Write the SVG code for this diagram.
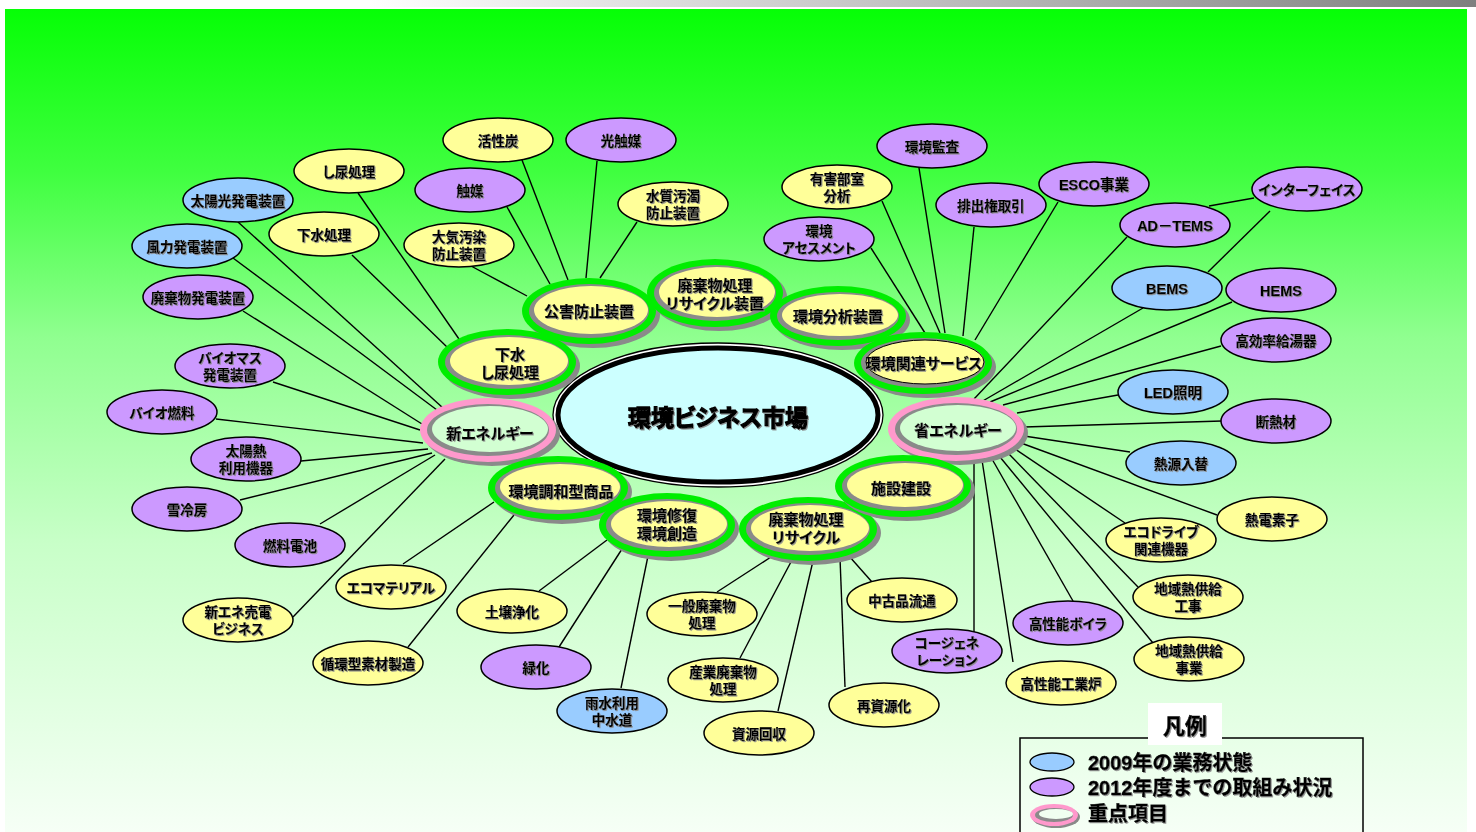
<svg xmlns="http://www.w3.org/2000/svg" width="1476" height="832" viewBox="0 0 1476 832">
<defs>
<linearGradient id="topbar" x1="0" y1="0" x2="1" y2="0">
<stop offset="0" stop-color="#ffffff"/><stop offset="0.25" stop-color="#ffffff"/><stop offset="1" stop-color="#7f7f7f"/>
</linearGradient>
<linearGradient id="bg" x1="0" y1="0" x2="0" y2="1">
<stop offset="0" stop-color="#06ff06"/><stop offset="0.2" stop-color="#40ff40"/><stop offset="0.4" stop-color="#90ff90"/><stop offset="0.65" stop-color="#c8ffc8"/><stop offset="1" stop-color="#f6fff6"/>
</linearGradient>
<filter id="tsh" x="-10%" y="-20%" width="120%" height="140%">
<feDropShadow dx="1" dy="1" stdDeviation="0.2" flood-color="#8a8a8a" flood-opacity="0.9"/>
</filter>
<style>
text{font-family:"Liberation Sans","Noto Sans CJK JP",sans-serif;font-weight:bold;text-anchor:middle;dominant-baseline:central;fill:#000;filter:url(#tsh);stroke:#000;stroke-width:0.25;font-feature-settings:"palt"}
.lt{font-size:13.5px}
.ln{font-size:14.5px}
.ct{font-size:15px}
.leaf{stroke:#000;stroke-width:1.5}
.y{fill:#ffff99}.p{fill:#cc99ff}.b{fill:#99ccff}
.sh{fill:#8a8a8a}
.gr{fill:#00ee00}
.pk{fill:#ff99cc}
.yi{fill:#ffff99}
.mi{fill:#d2ffd2}
#connectors line{stroke:#000;stroke-width:1.4}
.lg{text-anchor:start;font-size:20px;stroke-width:0.4;font-feature-settings:normal}
</style>
</defs>
<rect x="0" y="0" width="1476" height="832" fill="#ffffff"/>
<rect x="0" y="0" width="1476" height="7" fill="url(#topbar)"/>
<rect x="5" y="9" width="1462" height="823" fill="url(#bg)"/>
<rect x="1467" y="9" width="9" height="823" fill="#ffffff"/>

<g id="connectors">
<line x1="238" y1="222" x2="443" y2="408"/>
<line x1="233" y1="258" x2="437" y2="410"/>
<line x1="243" y1="311" x2="422" y2="424"/>
<line x1="273" y1="382" x2="420" y2="430"/>
<line x1="216" y1="419" x2="423" y2="443"/>
<line x1="301" y1="461" x2="428" y2="449"/>
<line x1="240" y1="500" x2="432" y2="453"/>
<line x1="320" y1="524" x2="435" y2="455"/>
<line x1="293" y1="617" x2="445" y2="459"/>
<line x1="352" y1="255" x2="447" y2="347"/>
<line x1="358" y1="193" x2="459" y2="339"/>
<line x1="522" y1="160" x2="568" y2="280"/>
<line x1="507" y1="207" x2="550" y2="284"/>
<line x1="597" y1="161" x2="586" y2="278"/>
<line x1="637" y1="222" x2="600" y2="278"/>
<line x1="471" y1="266" x2="527" y2="296"/>
<line x1="919" y1="168" x2="945" y2="333"/>
<line x1="882" y1="201" x2="940" y2="333"/>
<line x1="871" y1="248" x2="925" y2="333"/>
<line x1="974" y1="227" x2="963" y2="336"/>
<line x1="1058" y1="202" x2="975" y2="340"/>
<line x1="1127" y1="237" x2="974" y2="399"/>
<line x1="1143" y1="308" x2="981" y2="402"/>
<line x1="1232" y1="302" x2="990" y2="402"/>
<line x1="1221" y1="346" x2="1003" y2="405"/>
<line x1="1118" y1="395" x2="1017" y2="413"/>
<line x1="1222" y1="421" x2="1024" y2="427"/>
<line x1="1130" y1="452" x2="1024" y2="436"/>
<line x1="1217" y1="515" x2="1021" y2="443"/>
<line x1="1125" y1="523" x2="1015" y2="449"/>
<line x1="1138" y1="587" x2="1008" y2="453"/>
<line x1="1153" y1="643" x2="1000" y2="457"/>
<line x1="1073" y1="601" x2="992" y2="459"/>
<line x1="1013" y1="662" x2="982" y2="460"/>
<line x1="974" y1="632" x2="974" y2="460"/>
<line x1="1209" y1="206" x2="1254" y2="198"/>
<line x1="1270" y1="211" x2="1208" y2="272"/>
<line x1="403" y1="564" x2="494" y2="502"/>
<line x1="408" y1="647" x2="514" y2="515"/>
<line x1="539" y1="591" x2="607" y2="540"/>
<line x1="559" y1="647" x2="622" y2="549"/>
<line x1="621" y1="688" x2="648" y2="556"/>
<line x1="717" y1="592" x2="771" y2="557"/>
<line x1="740" y1="658" x2="792" y2="560"/>
<line x1="778" y1="711" x2="813" y2="561"/>
<line x1="845" y1="687" x2="840" y2="558"/>
<line x1="872" y1="582" x2="849" y2="556"/>
</g>

<g id="center">
<ellipse cx="718" cy="415" rx="165" ry="72" fill="#ffffff" stroke="#000" stroke-width="1.3"/>
<ellipse cx="718" cy="415" rx="160" ry="67" fill="#ccffff" stroke="#000" stroke-width="5"/>
<text x="718" y="418" style="font-size:23px;stroke-width:1.3">環境ビジネス市場</text>
</g>

<g id="cat-kogai">
<ellipse class="sh" cx="593" cy="315" rx="67" ry="33"/><ellipse class="gr" cx="589" cy="311" rx="67" ry="33"/><ellipse class="sh" cx="589" cy="311" rx="60" ry="27"/><ellipse class="yi" cx="591" cy="310" rx="57" ry="24"/>
<text class="ct" x="589" y="311">公害防止装置</text>
</g>
<g id="cat-haikibutsu-sochi">
<ellipse class="sh" cx="719" cy="297" rx="68" ry="34"/><ellipse class="gr" cx="715" cy="293" rx="68" ry="34"/><ellipse class="sh" cx="715" cy="293" rx="61" ry="28"/><ellipse class="yi" cx="717" cy="292" rx="58" ry="25"/>
<text class="ct" x="715" y="285">廃棄物処理</text><text class="ct" x="715" y="303">リサイクル装置</text>
</g>
<g id="cat-bunseki">
<ellipse class="sh" cx="842" cy="320" rx="68" ry="30"/><ellipse class="gr" cx="838" cy="316" rx="68" ry="30"/><ellipse class="sh" cx="838" cy="316" rx="61" ry="24"/><ellipse class="yi" cx="840" cy="315" rx="58" ry="21"/>
<text class="ct" x="838" y="316">環境分析装置</text>
</g>
<g id="cat-service">
<ellipse class="sh" cx="927" cy="367" rx="69" ry="31"/><ellipse class="gr" cx="923" cy="363" rx="69" ry="31"/><ellipse class="sh" cx="923" cy="363" rx="62" ry="25"/><ellipse class="yi" cx="925" cy="362" rx="59" ry="22" stroke="#000" stroke-width="1"/>
<text class="ct" x="924" y="363">環境関連サービス</text>
</g>
<g id="cat-gesui">
<ellipse class="sh" cx="511" cy="366" rx="69" ry="33"/><ellipse class="gr" cx="507" cy="362" rx="69" ry="33"/><ellipse class="sh" cx="507" cy="362" rx="62" ry="27"/><ellipse class="yi" cx="509" cy="361" rx="59" ry="24"/>
<text class="ct" x="510" y="354">下水</text><text class="ct" x="510" y="372">し尿処理</text>
</g>
<g id="cat-shin-energy">
<ellipse class="sh" cx="492" cy="434" rx="68" ry="32"/><ellipse class="pk" cx="488" cy="430" rx="68" ry="32"/><ellipse class="sh" cx="488" cy="430" rx="61" ry="26"/><ellipse class="mi" cx="490" cy="429" rx="58" ry="23"/>
<text class="ct" x="490" y="433">新エネルギー</text>
</g>
<g id="cat-sho-energy">
<ellipse class="sh" cx="960" cy="433" rx="68" ry="32"/><ellipse class="pk" cx="956" cy="429" rx="68" ry="32"/><ellipse class="sh" cx="956" cy="429" rx="61" ry="26"/><ellipse class="mi" cx="958" cy="428" rx="58" ry="23"/>
<text class="ct" x="958" y="430">省エネルギー</text>
</g>
<g id="cat-chowa">
<ellipse class="sh" cx="562" cy="492" rx="70" ry="32"/><ellipse class="gr" cx="558" cy="488" rx="70" ry="32"/><ellipse class="sh" cx="558" cy="488" rx="63" ry="26"/><ellipse class="yi" cx="560" cy="487" rx="60" ry="23"/>
<text class="ct" x="561" y="491">環境調和型商品</text>
</g>
<g id="cat-shufuku">
<ellipse class="sh" cx="671" cy="529" rx="68" ry="32"/><ellipse class="gr" cx="667" cy="525" rx="68" ry="32"/><ellipse class="sh" cx="667" cy="525" rx="61" ry="26"/><ellipse class="yi" cx="669" cy="524" rx="58" ry="23"/>
<text class="ct" x="667" y="515">環境修復</text><text class="ct" x="667" y="533">環境創造</text>
</g>
<g id="cat-haikibutsu">
<ellipse class="sh" cx="812" cy="533" rx="69" ry="32"/><ellipse class="gr" cx="808" cy="529" rx="69" ry="32"/><ellipse class="sh" cx="808" cy="529" rx="62" ry="26"/><ellipse class="yi" cx="810" cy="528" rx="59" ry="23"/>
<text class="ct" x="806" y="519">廃棄物処理</text><text class="ct" x="806" y="537">リサイクル</text>
</g>
<g id="cat-shisetsu">
<ellipse class="sh" cx="907" cy="490" rx="68" ry="31"/><ellipse class="gr" cx="903" cy="486" rx="68" ry="31"/><ellipse class="sh" cx="903" cy="486" rx="61" ry="25"/><ellipse class="yi" cx="905" cy="485" rx="58" ry="22"/>
<text class="ct" x="901" y="488">施設建設</text>
</g>

<g id="n-kasseitan"><ellipse class="leaf y" cx="498" cy="140" rx="55" ry="22"/><text class="lt" x="498" y="141">活性炭</text></g>
<g id="n-hikarishokubai"><ellipse class="leaf p" cx="621" cy="140" rx="55" ry="22"/><text class="lt" x="621" y="141">光触媒</text></g>
<g id="n-shinyo"><ellipse class="leaf y" cx="349" cy="171" rx="55" ry="22"/><text class="lt" x="349" y="172">し尿処理</text></g>
<g id="n-shokubai"><ellipse class="leaf p" cx="470" cy="190" rx="55" ry="22"/><text class="lt" x="470" y="191">触媒</text></g>
<g id="n-suishitsu"><ellipse class="leaf y" cx="673" cy="204" rx="55" ry="22"/><text class="lt" x="673" y="196">水質汚濁</text><text class="lt" x="673" y="213">防止装置</text></g>
<g id="n-taiki"><ellipse class="leaf y" cx="459" cy="245" rx="55" ry="22"/><text class="lt" x="459" y="237">大気汚染</text><text class="lt" x="459" y="254">防止装置</text></g>
<g id="n-taiyoko"><ellipse class="leaf b" cx="238" cy="200" rx="55" ry="22"/><text class="lt" x="238" y="201">太陽光発電装置</text></g>
<g id="n-gesui"><ellipse class="leaf y" cx="324" cy="234" rx="55" ry="22"/><text class="lt" x="324" y="235">下水処理</text></g>
<g id="n-furyoku"><ellipse class="leaf b" cx="187" cy="246" rx="55" ry="22"/><text class="lt" x="187" y="247">風力発電装置</text></g>
<g id="n-haikibutsu-hatsuden"><ellipse class="leaf p" cx="198" cy="297" rx="55" ry="22"/><text class="lt" x="198" y="298">廃棄物発電装置</text></g>
<g id="n-biomass"><ellipse class="leaf p" cx="230" cy="366" rx="55" ry="22"/><text class="lt" x="230" y="358">バイオマス</text><text class="lt" x="230" y="375">発電装置</text></g>
<g id="n-bionenryo"><ellipse class="leaf p" cx="162" cy="412" rx="55" ry="22"/><text class="lt" x="162" y="413">バイオ燃料</text></g>
<g id="n-taiyonetsu"><ellipse class="leaf p" cx="246" cy="459" rx="55" ry="22"/><text class="lt" x="246" y="451">太陽熱</text><text class="lt" x="246" y="468">利用機器</text></g>
<g id="n-yukireibo"><ellipse class="leaf p" cx="187" cy="509" rx="55" ry="22"/><text class="lt" x="187" y="510">雪冷房</text></g>
<g id="n-nenryodenchi"><ellipse class="leaf p" cx="290" cy="545" rx="55" ry="22"/><text class="lt" x="290" y="546">燃料電池</text></g>
<g id="n-baiden"><ellipse class="leaf y" cx="238" cy="620" rx="55" ry="22"/><text class="lt" x="238" y="612">新エネ売電</text><text class="lt" x="238" y="629">ビジネス</text></g>
<g id="n-ecomaterial"><ellipse class="leaf y" cx="391" cy="587" rx="55" ry="22"/><text class="lt" x="391" y="588">エコマテリアル</text></g>
<g id="n-junkan"><ellipse class="leaf y" cx="368" cy="663" rx="55" ry="22"/><text class="lt" x="368" y="664">循環型素材製造</text></g>
<g id="n-dojo"><ellipse class="leaf y" cx="512" cy="611" rx="55" ry="22"/><text class="lt" x="512" y="612">土壌浄化</text></g>
<g id="n-ryokuka"><ellipse class="leaf p" cx="536" cy="667" rx="55" ry="22"/><text class="lt" x="536" y="668">緑化</text></g>
<g id="n-usui"><ellipse class="leaf b" cx="612" cy="711" rx="55" ry="22"/><text class="lt" x="612" y="703">雨水利用</text><text class="lt" x="612" y="720">中水道</text></g>
<g id="n-ippan"><ellipse class="leaf y" cx="702" cy="614" rx="55" ry="22"/><text class="lt" x="702" y="606">一般廃棄物</text><text class="lt" x="702" y="623">処理</text></g>
<g id="n-sangyo"><ellipse class="leaf y" cx="723" cy="680" rx="55" ry="22"/><text class="lt" x="723" y="672">産業廃棄物</text><text class="lt" x="723" y="689">処理</text></g>
<g id="n-shigen"><ellipse class="leaf y" cx="759" cy="733" rx="55" ry="22"/><text class="lt" x="759" y="734">資源回収</text></g>
<g id="n-saishigen"><ellipse class="leaf y" cx="884" cy="705" rx="55" ry="22"/><text class="lt" x="884" y="706">再資源化</text></g>
<g id="n-chukohin"><ellipse class="leaf y" cx="902" cy="600" rx="55" ry="22"/><text class="lt" x="902" y="601">中古品流通</text></g>
<g id="n-cogene"><ellipse class="leaf p" cx="947" cy="651" rx="55" ry="22"/><text class="lt" x="947" y="643">コージェネ</text><text class="lt" x="947" y="660">レーション</text></g>
<g id="n-boiler"><ellipse class="leaf p" cx="1068" cy="623" rx="55" ry="22"/><text class="lt" x="1068" y="624">高性能ボイラ</text></g>
<g id="n-kogyoro"><ellipse class="leaf y" cx="1061" cy="683" rx="55" ry="22"/><text class="lt" x="1061" y="684">高性能工業炉</text></g>
<g id="n-chiiki-jigyo"><ellipse class="leaf y" cx="1189" cy="659" rx="55" ry="22"/><text class="lt" x="1189" y="651">地域熱供給</text><text class="lt" x="1189" y="668">事業</text></g>
<g id="n-chiiki-koji"><ellipse class="leaf y" cx="1188" cy="597" rx="55" ry="22"/><text class="lt" x="1188" y="589">地域熱供給</text><text class="lt" x="1188" y="606">工事</text></g>
<g id="n-ecodrive"><ellipse class="leaf y" cx="1161" cy="540" rx="55" ry="22"/><text class="lt" x="1161" y="532">エコドライブ</text><text class="lt" x="1161" y="549">関連機器</text></g>
<g id="n-netsuden"><ellipse class="leaf y" cx="1272" cy="519" rx="55" ry="22"/><text class="lt" x="1272" y="520">熱電素子</text></g>
<g id="n-netsugen"><ellipse class="leaf b" cx="1181" cy="463" rx="55" ry="22"/><text class="lt" x="1181" y="464">熱源入替</text></g>
<g id="n-dannetsu"><ellipse class="leaf p" cx="1276" cy="421" rx="55" ry="22"/><text class="lt" x="1276" y="422">断熱材</text></g>
<g id="n-led"><ellipse class="leaf b" cx="1173" cy="392" rx="55" ry="22"/><text class="ln" x="1173" y="393">LED照明</text></g>
<g id="n-kyuto"><ellipse class="leaf p" cx="1276" cy="340" rx="55" ry="22"/><text class="lt" x="1276" y="341">高効率給湯器</text></g>
<g id="n-hems"><ellipse class="leaf p" cx="1281" cy="290" rx="55" ry="22"/><text class="ln" x="1281" y="291">HEMS</text></g>
<g id="n-bems"><ellipse class="leaf b" cx="1167" cy="288" rx="55" ry="22"/><text class="ln" x="1167" y="289">BEMS</text></g>
<g id="n-interface"><ellipse class="leaf p" cx="1307" cy="189" rx="55" ry="22"/><text class="lt" x="1307" y="190">インターフェイス</text></g>
<g id="n-adtems"><ellipse class="leaf p" cx="1175" cy="225" rx="55" ry="22"/><text class="ln" x="1175" y="226">AD－TEMS</text></g>
<g id="n-esco"><ellipse class="leaf p" cx="1094" cy="184" rx="55" ry="22"/><text class="ln" x="1094" y="185">ESCO事業</text></g>
<g id="n-haishutsu"><ellipse class="leaf p" cx="991" cy="205" rx="55" ry="22"/><text class="lt" x="991" y="206">排出権取引</text></g>
<g id="n-kansa"><ellipse class="leaf p" cx="932" cy="146" rx="55" ry="22"/><text class="lt" x="932" y="147">環境監査</text></g>
<g id="n-yugai"><ellipse class="leaf y" cx="837" cy="187" rx="55" ry="22"/><text class="lt" x="837" y="179">有害部室</text><text class="lt" x="837" y="196">分析</text></g>
<g id="n-assessment"><ellipse class="leaf p" cx="819" cy="239" rx="55" ry="22"/><text class="lt" x="819" y="231">環境</text><text class="lt" x="819" y="248">アセスメント</text></g>

<g id="legend">
<rect x="1020" y="738" width="343" height="100" fill="none" stroke="#000" stroke-width="1.5"/>
<rect x="1148" y="703" width="74" height="42" fill="#ffffff"/>
<text x="1185" y="726" style="font-size:22px;stroke-width:0.5">凡例</text>
<ellipse cx="1052" cy="762" rx="22" ry="9" fill="#99ccff" stroke="#000" stroke-width="1.3"/>
<text class="lg" x="1088" y="763">2009年の業務状態</text>
<ellipse cx="1052" cy="787" rx="22" ry="9" fill="#cc99ff" stroke="#000" stroke-width="1.3"/>
<text class="lg" x="1088" y="788">2012年度までの取組み状況</text>
<ellipse cx="1056" cy="817" rx="24" ry="11" fill="#8a8a8a"/>
<ellipse cx="1054" cy="815" rx="24" ry="11" fill="#ff99cc"/>
<ellipse cx="1054" cy="815" rx="19" ry="7" fill="#8a8a8a"/>
<ellipse cx="1056" cy="814" rx="17" ry="5" fill="#f0fff0"/>
<text class="lg" x="1088" y="814">重点項目</text>
</g>
</svg>
